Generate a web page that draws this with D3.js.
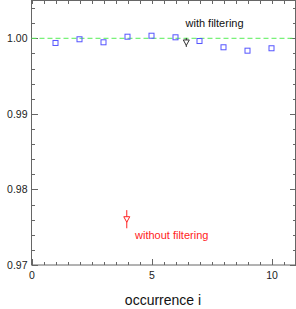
<!DOCTYPE html>
<html>
<head>
<meta charset="utf-8" />
<style>
body { margin: 0; background: #fff; }
text { font-family: "Liberation Sans", Arial, sans-serif; }
.axis path, .axis line { stroke: #666; shape-rendering: crispEdges; }
.axis text { font-size: 10.5px; fill: #222; }
</style>
</head>
<body>
<div id="chart"></div>
<script src="https://d3js.org/d3.v7.min.js"></script>
<script>
(function(d3) {
	'use strict';

	// occurrences and ratio with filtering
	var occurrence = [1, 2, 3, 4, 5, 6, 7, 8, 9, 10];
	var ratioFiltered = [0.99938, 0.99987, 0.99947, 1.00021, 1.00034, 1.00013, 0.99964, 0.99881, 0.99836, 0.99868];

	// combined results: [x, y, error]
	var withFiltering = [6.45, 0.99945, 0.0006];
	var withoutFiltering = [3.97, 0.97606, 0.0012];

	var xTicks = [0, 5, 10];
	var yTicks = [0.97, 0.98, 0.99, 1.00];

	var width = 296, height = 309;
	var left = 31.5, right = 295.5, top = 0.5, bottom = 265;

	var x = d3.scaleLinear().domain([0, 11]).range([left, right]);
	var y = d3.scaleLinear().domain([0.97, 1.005]).range([bottom, top]);

	var svg = d3.select('#chart').append('svg')
		.attr('width', width).attr('height', height);

	var xMinor = d3.range(0, 11.01, 0.5);
	var yMinor = d3.range(0.97, 1.0051, 0.002);

	// frame lines
	svg.append('rect')
		.attr('x', left).attr('y', top)
		.attr('width', right - left).attr('height', bottom - top)
		.attr('fill', 'none').attr('stroke', '#666');

	// minor ticks
	svg.append('g').attr('class', 'axis')
		.attr('transform', 'translate(0,' + bottom + ')')
		.call(d3.axisBottom(x).tickValues(xMinor).tickSize(-3).tickFormat(''));
	svg.append('g').attr('class', 'axis')
		.attr('transform', 'translate(0,' + top + ')')
		.call(d3.axisTop(x).tickValues(xMinor).tickSize(-3).tickFormat(''));
	svg.append('g').attr('class', 'axis')
		.attr('transform', 'translate(' + left + ',0)')
		.call(d3.axisLeft(y).tickValues(yMinor).tickSize(-3).tickFormat(''));
	svg.append('g').attr('class', 'axis')
		.attr('transform', 'translate(' + right + ',0)')
		.call(d3.axisRight(y).tickValues(yMinor).tickSize(-3).tickFormat(''));

	// major ticks + labels
	svg.append('g').attr('class', 'axis')
		.attr('transform', 'translate(0,' + bottom + ')')
		.call(d3.axisBottom(x).tickValues(xTicks).tickSize(-6).tickPadding(7)
			.tickFormat(d3.format('d')));
	svg.append('g').attr('class', 'axis')
		.attr('transform', 'translate(' + left + ',0)')
		.call(d3.axisLeft(y).tickValues(yTicks).tickSize(-6).tickPadding(4)
			.tickFormat(d3.format('.2f')));
	svg.append('g').attr('class', 'axis')
		.attr('transform', 'translate(' + right + ',0)')
		.call(d3.axisRight(y).tickValues(yTicks).tickSize(-6).tickFormat(''));
	svg.selectAll('.axis path.domain').remove();

	// reference line at 1
	svg.append('line')
		.attr('x1', left).attr('x2', right)
		.attr('y1', y(1)).attr('y2', y(1))
		.attr('stroke', '#55ee55').attr('stroke-width', 1)
		.attr('stroke-dasharray', '5,3');

	// per-occurrence squares
	svg.selectAll('rect.pt').data(occurrence).enter().append('rect')
		.attr('class', 'pt')
		.attr('x', function(d) { return x(d) - 2.5; })
		.attr('y', function(d, i) { return y(ratioFiltered[i]) - 2.5; })
		.attr('width', 5).attr('height', 5)
		.attr('fill', 'none').attr('stroke', '#5555ff').attr('stroke-width', 1);

	function triangle(p, color) {
		var cx = x(p[0]), cy = y(p[1]);
		svg.append('line')
			.attr('x1', cx).attr('x2', cx)
			.attr('y1', y(p[1] + p[2])).attr('y2', y(p[1] - p[2]))
			.attr('stroke', color).attr('stroke-width', 1);
		svg.append('path')
			.attr('d', 'M' + (cx - 3) + ',' + (cy - 2.5) + 'L' + (cx + 3) + ',' + (cy - 2.5) +
				'L' + cx + ',' + (cy + 3) + 'Z')
			.attr('fill', '#fff').attr('stroke', color).attr('stroke-width', 1);
	}
	triangle(withFiltering, '#333');
	triangle(withoutFiltering, '#ff2222');

	svg.append('text').attr('x', 185.5).attr('y', 27)
		.style('font-size', '11px').attr('fill', '#111')
		.text('with filtering');
	svg.append('text').attr('x', 135).attr('y', 238.5)
		.style('font-size', '11px').attr('fill', '#ff2222')
		.text('without filtering');

	svg.append('text').attr('x', 163).attr('y', 305)
		.attr('text-anchor', 'middle')
		.style('font-size', '14px').attr('fill', '#111')
		.text('occurrence i');

})(window.d3);
</script>
</body>
</html>
